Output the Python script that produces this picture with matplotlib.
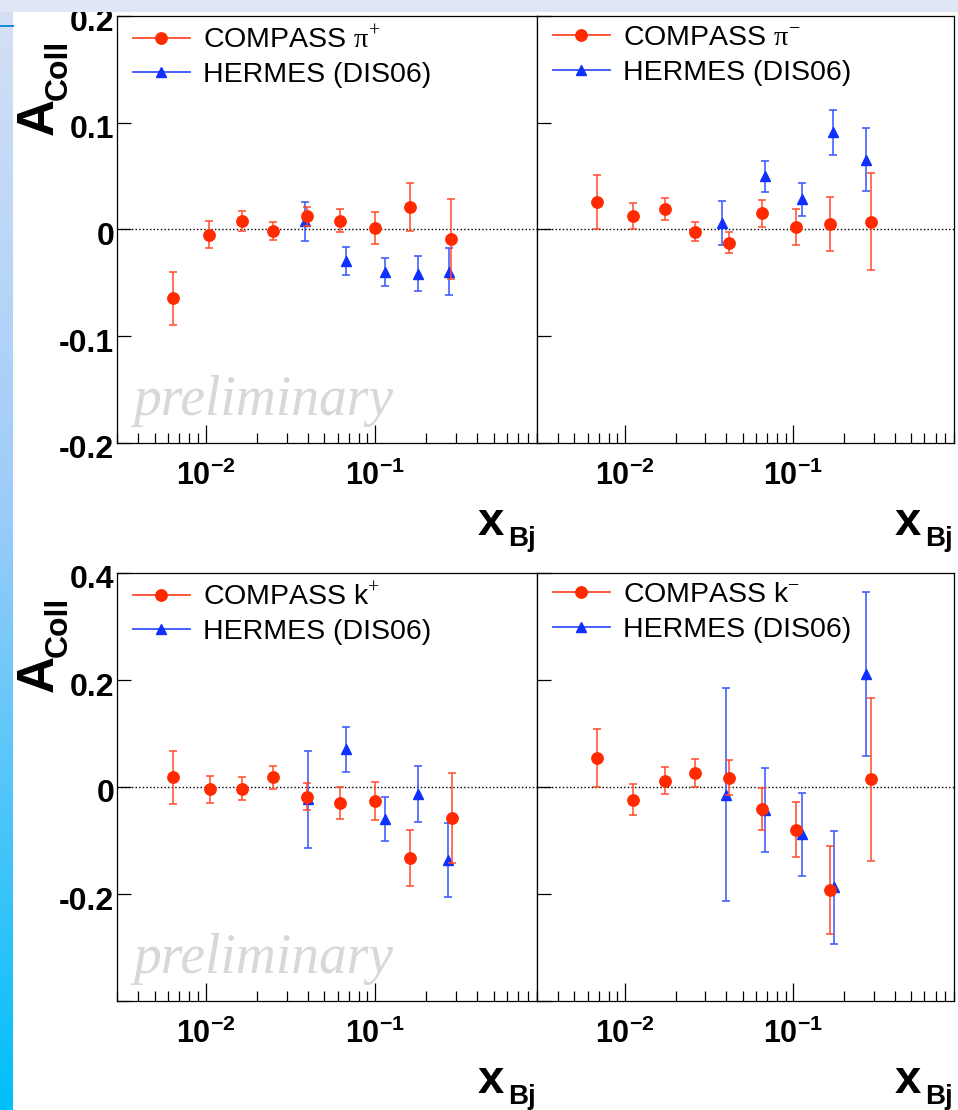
import numpy as np
import matplotlib
matplotlib.use("Agg")
import matplotlib.pyplot as plt
from matplotlib.lines import Line2D
from matplotlib.patches import Rectangle
from matplotlib import ticker, transforms

plt.rcParams["mathtext.fontset"] = "custom"
plt.rcParams["mathtext.rm"] = "Liberation Serif"
plt.rcParams["mathtext.bf"] = "Liberation Sans:bold"
plt.rcParams["mathtext.it"] = "Liberation Sans:italic"
plt.rcParams["font.family"] = ["Liberation Sans", "DejaVu Sans"]

# ---------------- data ----------------
# COMPASS pi+ / HERMES pi+
cpip_x = [0.0064, 0.0105, 0.0163, 0.0248, 0.0394, 0.0624, 0.100, 0.160, 0.280]
cpip_y = [-0.0645, -0.0047, 0.0078, -0.0014, 0.0125, 0.0082, 0.0012, 0.0209, -0.0087]
cpip_e = [0.025, 0.0125, 0.0094, 0.008, 0.009, 0.011, 0.015, 0.0225, 0.0375]
hpip_x = [0.0387, 0.067, 0.115, 0.178, 0.274]
hpip_y = [0.0076, -0.0292, -0.0401, -0.0415, -0.0395]
hpip_e = [0.0185, 0.013, 0.013, 0.0165, 0.022]

# COMPASS pi- / HERMES pi-
cpim_x = [0.0068, 0.0111, 0.0172, 0.026, 0.0413, 0.065, 0.104, 0.165, 0.29]
cpim_y = [0.0256, 0.0125, 0.0193, -0.0019, -0.0124, 0.0153, 0.0022, 0.0054, 0.0073]
cpim_e = [0.0256, 0.0125, 0.010, 0.0088, 0.0098, 0.0125, 0.0166, 0.0251, 0.0455]
hpim_x = [0.0379, 0.0675, 0.1125, 0.173, 0.27]
hpim_y = [0.006, 0.050, 0.0284, 0.0909, 0.0653]
hpim_e = [0.0205, 0.0145, 0.0153, 0.0212, 0.0297]

# COMPASS K+ / HERMES K+
ckp_x = [0.0064, 0.0106, 0.0163, 0.0248, 0.0394, 0.0624, 0.100, 0.160, 0.282]
ckp_y = [0.0181, -0.0044, -0.0032, 0.0181, -0.0178, -0.0295, -0.0257, -0.1324, -0.0585]
ckp_e = [0.05, 0.025, 0.0212, 0.0213, 0.0253, 0.0294, 0.0356, 0.0528, 0.084]
hkp_x = [0.040, 0.0674, 0.115, 0.178, 0.27]
hkp_y = [-0.0229, 0.0704, -0.0598, -0.0126, -0.137]
hkp_e = [0.091, 0.0422, 0.041, 0.052, 0.0688]

# COMPASS K- / HERMES K-
ckm_x = [0.0068, 0.0111, 0.0172, 0.026, 0.0413, 0.065, 0.104, 0.165, 0.29]
ckm_y = [0.0541, -0.0237, 0.0119, 0.0263, 0.0173, -0.0416, -0.080, -0.1923, 0.0144]
ckm_e = [0.054, 0.0288, 0.0256, 0.0263, 0.0328, 0.0397, 0.0513, 0.0816, 0.152]
hkm_x = [0.0398, 0.0679, 0.1125, 0.174, 0.27]
hkm_y = [-0.0143, -0.0433, -0.0881, -0.1872, 0.2108]
hkm_e = [0.1995, 0.0779, 0.0776, 0.1054, 0.1532]

compass_labels = [r"COMPASS $\mathrm{\pi}^{+}$", r"COMPASS $\mathrm{\pi}^{-}$",
                  r"COMPASS k$^{+}$", r"COMPASS k$^{-}$"]
hermes_label = "HERMES (DIS06)"

top_yticks = [0.2, 0.1, 0.0, -0.1, -0.2]
top_ylabels = ["0.2", "0.1", "0", "-0.1", "-0.2"]
bot_yticks = [0.4, 0.2, 0.0, -0.2, -0.4]
bot_ylabels = ["0.4", "0.2", "0", "-0.2", ""]
xticks = [0.01, 0.1]
xlabels = [r"$\mathbf{10^{-2}}$", r"$\mathbf{10^{-1}}$"]

# ---------------- figure ----------------
W, H = 958, 1110
fig = plt.figure(figsize=(W / 100, H / 100), dpi=100)


def px_rect(x0, y0, x1, y1):
    return [x0 / W, 1 - y1 / H, (x1 - x0) / W, (y1 - y0) / H]


# slide background: gradient strip on the left, pale band on top
bg = fig.add_axes([0, 0, 1, 1], zorder=-10)
img = np.ones((H, W, 3))
t = np.linspace(0, 1, H)
stops = [0.0, 0.45, 1.0]
cols = np.array([[0.84, 0.88, 0.96], [0.62, 0.80, 0.98], [0.0, 0.75, 0.98]])
for c in range(3):
    img[:, :13, c] = np.interp(t, stops, cols[:, c])[:, None]
img[25:27, :14] = [0.10, 0.55, 0.85]
bg.imshow(img, extent=[0, 1, 0, 1], aspect="auto", interpolation="nearest")
bg.axis("off")
fig.add_artist(Rectangle((0, 1 - 12 / H), 1, 12 / H, transform=fig.transFigure,
                         facecolor=(0.88, 0.90, 0.96), edgecolor="none", zorder=20))

RED_M, RED_E = "#ff2a00", "#ff4a2a"
BLUE_M, BLUE_E = "#1030ff", "#3553ff"

panels = [
    dict(rect=(117, 16, 537, 443), ylim=(-0.2, 0.2), yt=top_yticks, yl=top_ylabels, left=True,
         c=(cpip_x, cpip_y, cpip_e), h=(hpip_x, hpip_y, hpip_e), lab=compass_labels[0]),
    dict(rect=(537, 16, 954, 443), ylim=(-0.2, 0.2), yt=top_yticks, yl=top_ylabels, left=False,
         c=(cpim_x, cpim_y, cpim_e), h=(hpim_x, hpim_y, hpim_e), lab=compass_labels[1]),
    dict(rect=(117, 573, 537, 1001), ylim=(-0.4, 0.4), yt=bot_yticks, yl=bot_ylabels, left=True,
         c=(ckp_x, ckp_y, ckp_e), h=(hkp_x, hkp_y, hkp_e), lab=compass_labels[2]),
    dict(rect=(537, 573, 954, 1001), ylim=(-0.4, 0.4), yt=bot_yticks, yl=bot_ylabels, left=False,
         c=(ckm_x, ckm_y, ckm_e), h=(hkm_x, hkm_y, hkm_e), lab=compass_labels[3]),
]

down = transforms.ScaledTranslation(0, -0.04, fig.dpi_scale_trans)

for p in panels:
    x0, y0, x1, y1 = p["rect"]
    ax = fig.add_axes(px_rect(*p["rect"]))
    ax.set_xscale("log")
    ax.set_xlim(0.003, 0.9)
    ax.set_ylim(*p["ylim"])
    for s in ax.spines.values():
        s.set_linewidth(0.9)
        s.set_color("black")

    ax.axhline(0, color="black", lw=1.0, linestyle=(0, (1, 1.6)), zorder=1)

    hx, hy, he = p["h"]
    ax.errorbar(hx, hy, yerr=he, fmt="^", ms=7.5, mfc=BLUE_M, mec=BLUE_M,
                ecolor=BLUE_E, elinewidth=1.1, capsize=2.6, capthick=1.1, zorder=3)
    cx, cy, ce = p["c"]
    ax.errorbar(cx, cy, yerr=ce, fmt="o", ms=8.2, mfc=RED_M, mec=RED_M,
                ecolor=RED_E, elinewidth=1.1, capsize=2.6, capthick=1.1, zorder=4)

    # axis ticks
    ax.set_xticks(xticks, xlabels)
    ax.xaxis.set_minor_locator(ticker.LogLocator(base=10, subs=np.arange(2, 10)))
    ax.xaxis.set_minor_formatter(ticker.NullFormatter())
    ax.tick_params(axis="x", which="major", direction="in", length=13, width=0.9,
                   top=False, labelsize=22, pad=13)
    ax.tick_params(axis="x", which="minor", direction="in", length=7, width=0.9, top=False)
    ax.set_yticks(p["yt"], p["yl"] if p["left"] else [""] * len(p["yt"]))
    ax.yaxis.set_minor_locator(ticker.NullLocator())
    ax.tick_params(axis="y", which="major", direction="in", length=10, width=0.9,
                   right=False, labelsize=23, pad=2, labelleft=p["left"])
    for lbl in ax.get_yticklabels():
        lbl.set_fontweight("bold")
        lbl.set_transform(lbl.get_transform() + down)

    # legend
    handles = [Line2D([], [], color=RED_E, lw=1.3, marker="o", ms=8.2, mfc=RED_M, mec=RED_M),
               Line2D([], [], color=BLUE_E, lw=1.3, marker="^", ms=7.5, mfc=BLUE_M, mec=BLUE_M)]
    ax.legend(handles, [p["lab"], hermes_label], loc="upper left",
              bbox_to_anchor=(16 / (x1 - x0), 1 - 9 / (y1 - y0)), frameon=False,
              fontsize=20.5, handlelength=2.0, handletextpad=0.45, labelspacing=0.3,
              borderpad=0, borderaxespad=0)

    if p["left"]:
        ax.text(16 / (x1 - x0), 28 / (y1 - y0), "preliminary", transform=ax.transAxes,
                family="Liberation Serif", style="italic", fontsize=40, color="#d8d8d8",
                ha="left", va="baseline", zorder=0)

    # x axis title
    fig.text((x1 - 1) / W, 1 - (y1 + 103) / H, "Bj", fontsize=20, fontweight="bold",
             ha="right", va="baseline")
    fig.text((x1 - 33) / W, 1 - (y1 + 92) / H, "x", fontsize=34, fontweight="bold",
             ha="right", va="baseline")

    # y axis title
    if p["left"]:
        fig.text(67 / W, 1 - (y0 + 24) / H, "Coll", fontsize=23, fontweight="bold",
                 rotation=90, rotation_mode="anchor", ha="right", va="baseline")
        fig.text(53 / W, 1 - (y0 + 82) / H, "A", fontsize=37, fontweight="bold",
                 rotation=90, rotation_mode="anchor", ha="right", va="baseline")

fig.savefig("out.png", dpi=100)
